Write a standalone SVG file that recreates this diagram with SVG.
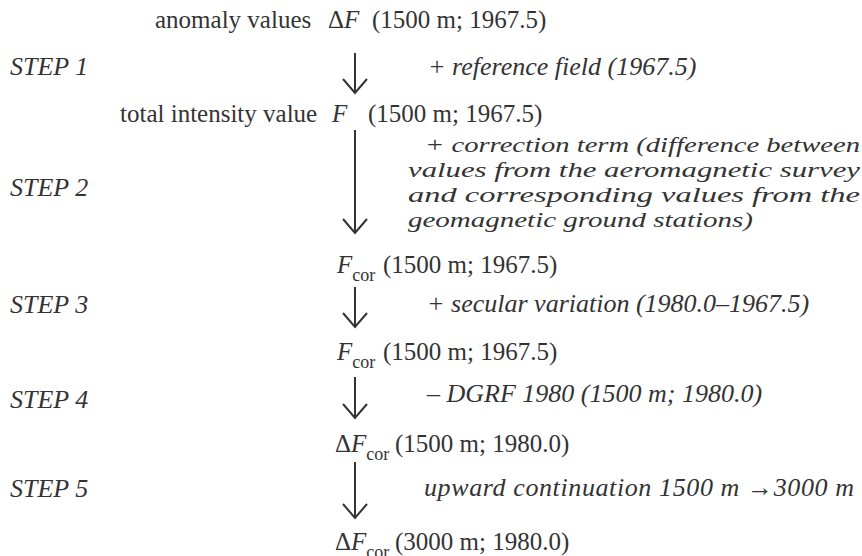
<svg xmlns="http://www.w3.org/2000/svg" width="862" height="556" viewBox="0 0 862 556">
<style>
text{font-family:"Liberation Serif","Times New Roman",serif;font-size:25px;fill:#333}
.it{font-style:italic;font-size:26px}
.cr{font-style:italic;font-size:22px}
.fi{font-style:italic}
.sub{font-size:18px}
.arr{stroke:#333;stroke-width:2;fill:none}
</style>
<rect width="862" height="556" fill="#fff"/>
<g id="steps">
<text class="it" x="10" y="75">STEP 1</text>
<text class="it" x="10" y="196">STEP 2</text>
<text class="it" x="10" y="313">STEP 3</text>
<text class="it" x="10" y="408">STEP 4</text>
<text class="it" x="10" y="497">STEP 5</text>
</g>
<g id="n1"><text x="155" y="28">anomaly values <tspan x="328">Δ</tspan><tspan class="fi">F</tspan><tspan x="372">(1500 m; 1967.5)</tspan></text></g>
<g id="n2"><text x="120" y="122">total intensity value <tspan class="fi" x="332">F</tspan><tspan x="368">(1500 m; 1967.5)</tspan></text></g>
<g id="n3"><text x="337" y="273"><tspan class="fi">F</tspan><tspan class="sub" dy="8">cor</tspan><tspan dy="-8" x="383">(1500 m; 1967.5)</tspan></text></g>
<g id="n4"><text x="337" y="360"><tspan class="fi">F</tspan><tspan class="sub" dy="8">cor</tspan><tspan dy="-8" x="383">(1500 m; 1967.5)</tspan></text></g>
<g id="n5"><text x="335" y="452">Δ<tspan class="fi">F</tspan><tspan class="sub" dy="8">cor</tspan><tspan dy="-8" x="395">(1500 m; 1980.0)</tspan></text></g>
<g id="n6"><text x="335" y="550">Δ<tspan class="fi">F</tspan><tspan class="sub" dy="8">cor</tspan><tspan dy="-8" x="395">(3000 m; 1980.0)</tspan></text></g>
<g id="connectors">
<path class="arr" d="M355 53V93M343 79L355 93L367 79"/>
<path class="arr" d="M355 130V233M343 219L355 233L367 219"/>
<path class="arr" d="M355 287V327M343 313L355 327L367 313"/>
<path class="arr" d="M355 377V418M343 404L355 418L367 404"/>
<path class="arr" d="M355 462V518M343 504L355 518L367 504"/>
</g>
<g id="labels">
<text class="it" x="428" y="75">+ reference field (1967.5)</text>
<text class="cr" x="425" y="152" textLength="435" lengthAdjust="spacingAndGlyphs">+ correction term (difference between</text>
<text class="cr" x="408" y="177" textLength="452" lengthAdjust="spacingAndGlyphs">values from the aeromagnetic survey</text>
<text class="cr" x="408" y="202" textLength="452" lengthAdjust="spacingAndGlyphs">and corresponding values from the</text>
<text class="cr" x="408" y="227" textLength="345" lengthAdjust="spacingAndGlyphs">geomagnetic ground stations)</text>
<text class="it" x="427" y="312">+ secular variation (1980.0–1967.5)</text>
<text class="it" x="427" y="402">– DGRF 1980 (1500 m; 1980.0)</text>
<text class="it" x="424" y="496" textLength="430" lengthAdjust="spacing">upward continuation  1500 m →3000 m</text>
</g>
</svg>
